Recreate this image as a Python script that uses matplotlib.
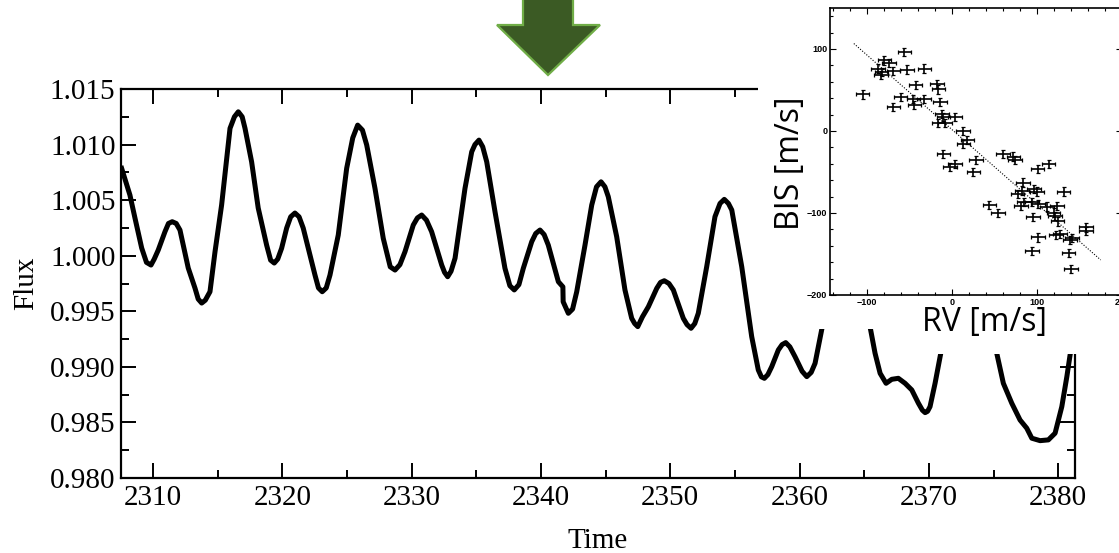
import matplotlib
matplotlib.use("Agg")
import matplotlib.pyplot as plt
from matplotlib.patches import Polygon, Rectangle
from matplotlib.ticker import MultipleLocator

plt.rcParams['font.family'] = 'Liberation Serif'

# light curve
time = [2307.58, 2308.22, 2308.61, 2309.13, 2309.50, 2309.85, 2310.10, 2310.41, 2310.93,
        2311.20, 2311.49, 2311.80, 2312.09, 2312.73, 2313.25, 2313.50, 2313.77, 2314.05,
        2314.41, 2314.80, 2315.31, 2315.96, 2316.30, 2316.60, 2316.90, 2317.12, 2317.63,
        2318.14, 2318.79, 2319.10, 2319.38, 2319.65, 2319.95, 2320.34, 2320.65, 2320.98,
        2321.30, 2321.62, 2322.53, 2322.80, 2323.09, 2323.40, 2323.69, 2324.33, 2324.98,
        2325.45, 2325.83, 2326.20, 2326.53, 2327.17, 2327.81, 2328.35, 2328.72, 2329.10,
        2329.49, 2330.13, 2330.45, 2330.78, 2331.15, 2331.55, 2332.33, 2332.55, 2332.79,
        2333.05, 2333.36, 2334.13, 2334.65, 2334.90, 2335.21, 2335.50, 2335.81, 2336.45,
        2337.22, 2337.60, 2337.94, 2338.30, 2338.64, 2339.29, 2339.60, 2339.93, 2340.25,
        2340.57, 2341.35, 2341.70, 2341.72, 2342.12, 2342.45, 2342.77, 2343.41, 2343.93,
        2344.30, 2344.65, 2344.95, 2345.21, 2345.86, 2346.50, 2347.02, 2347.25, 2347.49,
        2347.85, 2348.31, 2348.96, 2349.25, 2349.54, 2349.90, 2350.24, 2351.01, 2351.30,
        2351.61, 2351.90, 2352.17, 2352.82, 2353.46, 2353.85, 2354.18, 2354.50, 2354.76,
        2355.53, 2356.30, 2356.81, 2357.05, 2357.28, 2357.55, 2357.85, 2358.36, 2358.65,
        2358.93, 2359.25, 2359.65, 2360.20, 2360.56, 2360.90, 2361.20, 2361.76, 2362.50,
        2363.30, 2364.10, 2365.00, 2365.45, 2365.84, 2366.23, 2366.69, 2367.13, 2367.64,
        2368.16, 2368.68, 2369.19, 2369.50, 2369.71, 2369.90, 2370.09, 2370.48, 2370.87,
        2371.80, 2372.80, 2373.80, 2374.80, 2375.25, 2375.76, 2376.41, 2377.05, 2377.57,
        2377.96, 2378.60, 2379.24, 2379.76, 2380.28, 2380.67, 2380.92, 2381.30]
flux = [1.00786, 1.00546, 1.00339, 1.00069, 0.99940, 0.99916, 0.99970, 1.00051, 1.00216,
        1.00290, 1.00306, 1.00290, 1.00231, 0.99889, 0.99709, 0.99610, 0.99574, 0.99600,
        0.99676, 1.00036, 1.00456, 1.01146, 1.01250, 1.01295, 1.01250, 1.01146, 1.00845,
        1.00429, 1.00096, 0.99960, 0.99934, 0.99970, 1.00067, 1.00249, 1.00350, 1.00384,
        1.00350, 1.00249, 0.99826, 0.99710, 0.99676, 0.99710, 0.99826, 1.00186, 1.00786,
        1.01060, 1.01175, 1.01130, 1.00996, 1.00606, 1.00156, 0.99900, 0.99871, 0.99920,
        1.00036, 1.00276, 1.00340, 1.00366, 1.00320, 1.00216, 0.99916, 0.99850, 0.99811,
        0.99860, 0.99977, 1.00606, 1.00935, 1.01000, 1.01040, 1.00980, 1.00845, 1.00396,
        0.99887, 0.99730, 0.99692, 0.99740, 0.99887, 1.00126, 1.00200, 1.00231, 1.00190,
        1.00096, 0.99766, 0.99720, 0.99586, 0.99482, 0.99520, 0.99676, 1.00096, 1.00456,
        1.00620, 1.00665, 1.00620, 1.00531, 1.00171, 0.99692, 0.99437, 0.99390, 0.99362,
        0.99450, 0.99541, 0.99707, 0.99760, 0.99775, 0.99750, 0.99692, 0.99437, 0.99380,
        0.99347, 0.99390, 0.99482, 0.99901, 1.00351, 1.00470, 1.00507, 1.00470, 1.00411,
        0.99901, 0.99272, 0.98972, 0.98910, 0.98897, 0.98930, 0.99002, 0.99152, 0.99200,
        0.99218, 0.99180, 0.99092, 0.98960, 0.98912, 0.98950, 0.99032, 0.99362, 0.99900,
        1.00300, 1.00350, 0.99900, 0.99362, 0.99122, 0.98942, 0.98852, 0.98888, 0.98897,
        0.98852, 0.98792, 0.98673, 0.98610, 0.98588, 0.98600, 0.98642, 0.98852, 0.99092,
        0.99650, 1.00050, 0.99900, 0.99450, 0.99122, 0.98852, 0.98673, 0.98522, 0.98448,
        0.98358, 0.98336, 0.98343, 0.98403, 0.98642, 0.98912, 0.99107, 0.99350]

# inset: bisector span vs radial velocity
rv = [-55.7, -79.0, -74.0, -86.3, -82.4, -83.1, -68.6, -52.9, -32.2, -104.7, -42.4, -17.6,
      -15.7, -60.0, -45.1, -32.5, -43.9, -68.6, -13.7, -11.8, -9.8, 3.9, -15.7, -7.8,
      12.9, 18.4, 13.7, -9.8, 28.2, 3.9, -2.0, 25.5, 60.0, 72.5, 74.5, 113.7, 100.8,
      83.5, 77.3, 82.4, 96.9, 100.0, 131.4, 85.1, 94.5, 101.2, 111.8, 123.5, 81.2, 44.3,
      54.1, 119.6, 121.6, 95.3, 124.3, 122.7, 127.5, 101.2, 141.2, 158.0, 158.0, 94.1,
      137.3, 140.4, 139.2]
bis = [96.5, 86.0, 82.5, 76.2, 72.2, 68.1, 73.0, 75.0, 76.2, 44.6, 56.0, 57.2,
       50.7, 41.0, 38.9, 38.9, 31.6, 29.6, 35.7, 20.3, 16.6, 16.6, 10.1, 10.1,
       0.4, -10.9, -15.8, -28.4, -35.7, -40.1, -44.2, -49.9, -28.0, -31.2, -35.3, -40.1, -46.2,
       -62.9, -76.6, -72.6, -71.0, -73.8, -73.8, -86.8, -86.8, -88.8, -92.1, -91.2, -91.2, -90.0,
       -100.2, -99.4, -103.4, -105.0, -110.3, -126.9, -125.7, -129.8, -130.6, -117.6, -121.7, -146.8,
       -148.8, -168.3, -132.7]
rv_err = 8
bis_err = 5
fit_slope = -0.91
fit_intercept = 2.0
fit_rv = [-115, 175]

W, H = 1119, 553


def fig_rect(x0, y0, x1, y1):
    # pixel box (top-left origin) -> figure fraction [left, bottom, width, height]
    return [x0 / W, 1 - y1 / H, (x1 - x0) / W, (y1 - y0) / H]


fig = plt.figure(figsize=(W / 100, H / 100), dpi=100)

ax = fig.add_axes(fig_rect(121, 89, 1075, 478))
ax.plot(time, flux, color='black', lw=3.6, solid_joinstyle='round')
ax.set_xlim(2307.53, 2381.3)
ax.set_ylim(0.980, 1.015)
ax.xaxis.set_major_locator(MultipleLocator(10))
ax.xaxis.set_minor_locator(MultipleLocator(5))
ax.yaxis.set_major_locator(MultipleLocator(0.005))
ax.yaxis.set_minor_locator(MultipleLocator(0.0025))
ax.yaxis.set_major_formatter(plt.FormatStrFormatter('%.3f'))
ax.tick_params(which='both', direction='in', top=True, right=True, width=1.4, labelsize=21)
ax.tick_params(which='major', length=11)
ax.tick_params(which='minor', length=5.5)
ax.tick_params(axis='x', pad=5)
ax.tick_params(axis='y', pad=4)
for s in ax.spines.values():
    s.set_linewidth(1.6)
ax.set_xlabel('Time', fontsize=21, labelpad=12)
ax.set_ylabel('Flux', fontsize=21, labelpad=8)

# white cover behind the inset
fig.add_artist(Rectangle((758 / W, 1 - 329 / H), (W - 758) / W, 329 / H,
                         transform=fig.transFigure, facecolor='white', edgecolor='none', zorder=2))
fig.add_artist(Rectangle((895 / W, 1 - 354 / H), (W - 895) / W, 30 / H,
                         transform=fig.transFigure, facecolor='white', edgecolor='none', zorder=2))

# green arrow
arrow_px = [(523, -5), (573, -5), (573, 25), (600, 25), (548, 75), (497, 25), (523, 25)]
fig.add_artist(Polygon([(x / W, 1 - y / H) for x, y in arrow_px], closed=True,
                       transform=fig.transFigure, facecolor='#3b5a24', edgecolor='#70ad47',
                       lw=1.6, zorder=3))

ins = fig.add_axes(fig_rect(830, 8, 1122, 295))
ins.set_zorder(3)
ins.errorbar(rv, bis, xerr=rv_err, yerr=bis_err, fmt='none', ecolor='black',
             elinewidth=1.2, capsize=1.2, capthick=0.9)
ins.plot(fit_rv, [fit_intercept + fit_slope * v for v in fit_rv], color='black',
         lw=0.8, ls=(0, (1, 1.5)))
ins.set_xlim(-143, 200)
ins.set_ylim(-200, 150)
ins.xaxis.set_major_locator(MultipleLocator(100))
ins.xaxis.set_minor_locator(MultipleLocator(20))
ins.yaxis.set_major_locator(MultipleLocator(100))
ins.yaxis.set_minor_locator(MultipleLocator(20))
ins.tick_params(which='both', direction='in', top=True, right=True, width=0.8,
                labelsize=6.5, pad=2)
ins.tick_params(which='major', length=4)
ins.tick_params(which='minor', length=2)
for lab in ins.get_xticklabels() + ins.get_yticklabels():
    lab.set_fontfamily('Liberation Sans')
    lab.set_fontweight('bold')
for s in ins.spines.values():
    s.set_linewidth(1.2)

fig.text(985 / W, 1 - 323 / H, 'RV [m/s]', fontsize=23, family='Open Sans',
         ha='center', va='center', zorder=4)
fig.text(790 / W, 1 - 163 / H, 'BIS [m/s]', fontsize=23, family='Open Sans',
         rotation=90, ha='center', va='center', zorder=4)

fig.savefig('out.png', dpi=100)
